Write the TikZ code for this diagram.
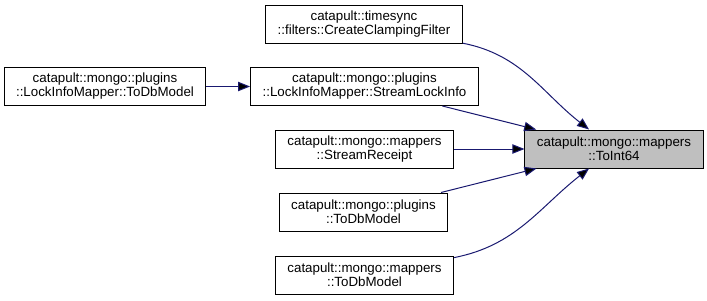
\documentclass[tikz,border=0pt]{standalone}
\usepackage{fontspec}
\setmainfont{Liberation Sans}
\usetikzlibrary{arrows.meta}
\definecolor{edgeblue}{RGB}{25,25,112}
\definecolor{selgray}{RGB}{191,191,191}
\begin{document}
\begin{tikzpicture}[x=0.75pt, y=-0.75pt,
node_style/.style={rectangle,draw=black,fill=white,line width=0.75pt,align=center,font=\fontsize{10}{10.5}\selectfont,inner xsep=9pt,inner ysep=2pt,minimum height=28.5pt},
node_style_selected/.style={node_style,fill=selgray},
edge_style/.style={draw=edgeblue,line width=0.75pt,-{Triangle[length=9pt,width=7pt]}}]
\useasboundingbox (0,0) rectangle (707,300);
\node[node_style] (lockdb) at (105,86.5) {catapult::mongo::plugins\\::LockInfoMapper::ToDbModel};
\node[node_style] (clamp) at (364,24) {catapult::timesync\\::filters::CreateClampingFilter};
\node[node_style] (streamlock) at (364.5,86.5) {catapult::mongo::plugins\\::LockInfoMapper::StreamLockInfo};
\node[node_style] (receipt) at (364.5,149) {catapult::mongo::mappers\\::StreamReceipt};
\node[node_style] (pluginsdb) at (363.5,212) {catapult::mongo::plugins\\::ToDbModel};
\node[node_style] (mappersdb) at (364.5,275) {catapult::mongo::mappers\\::ToDbModel};
\node[node_style_selected] (toint) at (614,149) {catapult::mongo::mappers\\::ToInt64};
\draw[edge_style]  (lockdb) edge (streamlock);
\draw[edge_style]  (clamp) edge[out=-11,in=142] (toint);
\draw[edge_style]  (streamlock) edge (toint);
\draw[edge_style]  (receipt) edge (toint);
\draw[edge_style]  (pluginsdb) edge (toint);
\draw[edge_style]  (mappersdb) edge[out=11,in=-142] (toint);
\end{tikzpicture}
\end{document}
